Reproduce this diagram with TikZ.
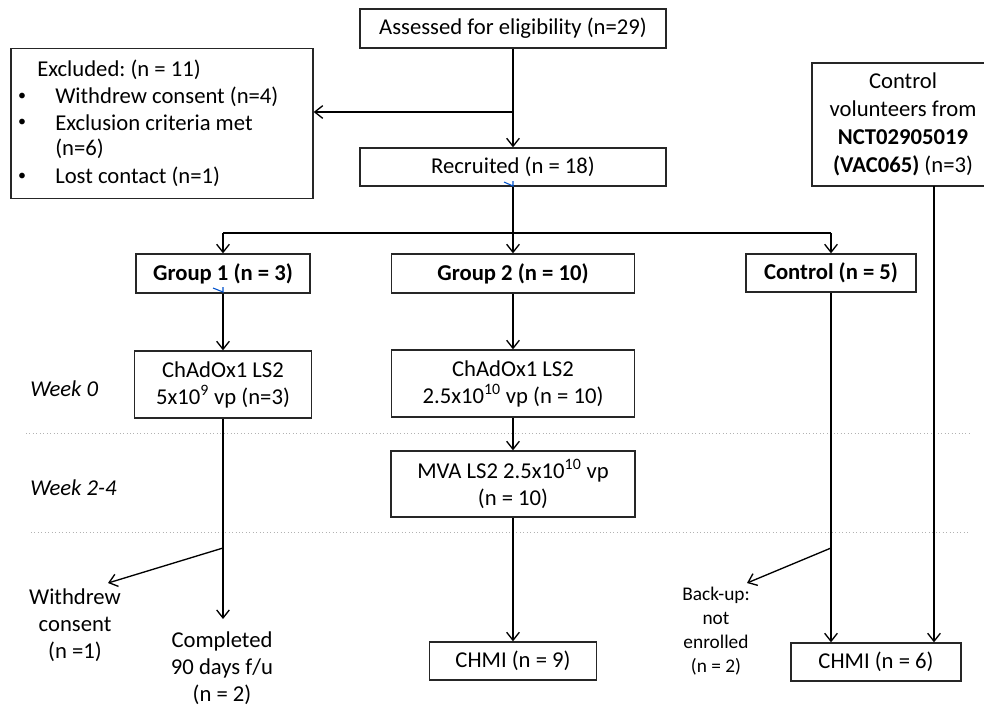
\documentclass[tikz,border=0pt]{standalone}
\usepackage{fontspec}
\setmainfont{Carlito}
\usetikzlibrary{arrows.meta}
\begin{document}
\frenchspacing
\begin{tikzpicture}[x=0.75pt,y=-0.75pt,
  box/.style={draw=black!85,line width=1pt,rectangle,inner sep=0pt,align=center,font=\fontsize{17}{20.25}\selectfont},
  txt/.style={inner sep=0pt,align=center,font=\fontsize{17}{20.25}\selectfont},
  arr/.style={line width=1pt,-{Straight Barb[length=6pt,width=9.5pt,line width=1pt]}},
  ln/.style={line width=1pt},
  sep/.style={draw=black!30,line width=0.6pt,dotted},
  blue/.style={draw=blue!60!cyan!80!black,line width=0.8pt}]
\clip (0,0) rectangle (984,708);
\fill[white] (0,0) rectangle (984,708);
% boxes
\node[box,minimum width=306*0.75pt,minimum height=39*0.75pt] (assess) at (513,28.5) {Assessed for eligibility (n=29)};
\node[box,minimum width=306*0.75pt,minimum height=38*0.75pt] (recruit) at (513,167) {Recruited (n = 18)};
\node[box,minimum width=302*0.75pt,minimum height=150*0.75pt] (excl) at (162,123.5) {};
\node[txt,anchor=west] (exclT) at (37,70) {Excluded: (n = 11)};
\node[txt,font=\fontsize{12}{14}\selectfont] (b1) at (22,97) {•};
\node[txt,font=\fontsize{12}{14}\selectfont] (b2) at (22,123) {•};
\node[txt,font=\fontsize{12}{14}\selectfont] (b3) at (22,177) {•};
\node[txt,anchor=west] (e1) at (55,97) {Withdrew consent (n=4)};
\node[txt,anchor=west] (e2) at (55,123) {Exclusion criteria met};
\node[txt,anchor=west] (e2b) at (55,149) {(n=6)};
\node[txt,anchor=west] (e3) at (55,177) {Lost contact (n=1)};
\node[box,minimum width=182*0.75pt,minimum height=123*0.75pt,font=\fontsize{17}{21}\selectfont] (ctrlvol) at (903,124.5) {Control\\volunteers from\\\textbf{NCT02905019}\\\textbf{(VAC065)} (n=3)};
\node[box,minimum width=174*0.75pt,minimum height=39*0.75pt,font=\fontsize{17}{20.25}\bfseries] (group1) at (223,273.5) {Group 1 (n = 3)};
\node[box,minimum width=243*0.75pt,minimum height=39*0.75pt,font=\fontsize{17}{20.25}\bfseries] (group2) at (513,273.5) {Group 2 (n = 10)};
\node[box,minimum width=170*0.75pt,minimum height=38*0.75pt,font=\fontsize{17}{20.25}\bfseries] (control) at (831,273) {Control (n = 5)};
\node[box,minimum width=177*0.75pt,minimum height=67*0.75pt] (chad1) at (223,384.5) {ChAdOx1 LS2\\5x10\textsuperscript{9} vp (n=3)};
\node[box,minimum width=243*0.75pt,minimum height=67*0.75pt] (chad2) at (513,383.5) {ChAdOx1 LS2\\2.5x10\textsuperscript{10} vp (n = 10)};
\node[box,minimum width=244*0.75pt,minimum height=66*0.75pt] (mva) at (513,484) {MVA LS2 2.5x10\textsuperscript{10} vp\\(n = 10)};
\node[box,minimum width=167*0.75pt,minimum height=38*0.75pt] (chmi9) at (513,661) {CHMI (n = 9)};
\node[box,minimum width=170*0.75pt,minimum height=38*0.75pt] (chmi6) at (876,662) {CHMI (n = 6)};
% free texts
\node[txt] (withdrew) at (75,625) {Withdrew\\consent\\(n =1)};
\node[txt] (completed) at (222,668) {Completed\\90 days f/u\\(n = 2)};
\node[txt,font=\fontsize{14.5}{18}\selectfont] (backup) at (716,631) {Back-up:\\not\\enrolled\\(n = 2)};
\node[txt,anchor=west,font=\fontsize{17}{20.25}\itshape] (week0) at (30,389) {Week 0};
\node[txt,anchor=west,font=\fontsize{17}{20.25}\itshape] (week24) at (30,488) {Week 2-4};
% separators
\coordinate (s1a) at (26,433); \coordinate (s1b) at (970,433);
\coordinate (s2a) at (31,532); \coordinate (s2b) at (970,532);
\draw[sep] (s1a) -- (s1b);
\draw[sep] (s2a) -- (s2b);
% connectors
\coordinate (exSplit) at (513,112);
\draw[arr] (assess.south) -- (recruit.north);
\draw[arr] (exSplit) -- (excl.east |- exSplit);
\coordinate (split) at (513,233);
\draw[ln] (recruit.south) -- (split);
\draw[ln] (group1.north |- split) -- (control.north |- split);
\draw[arr] (group1.north |- split) -- (group1.north);
\draw[arr] (split) -- (group2.north);
\draw[arr] (control.north |- split) -- (control.north);
\draw[arr] (group1.south) -- (chad1.north);
\draw[arr] (group2.south) -- (chad2.north);
\draw[arr] (chad2.south) -- (mva.north);
\draw[arr] (mva.south) -- (chmi9.north);
\coordinate (g1tip) at (223,619);
\coordinate (g1br) at (223,548);
\coordinate (wdtip) at (108,583);
\draw[arr] (chad1.south) -- (g1tip);
\draw[arr] (g1br) -- (wdtip);
\coordinate (ctbr) at (831,548);
\coordinate (bktip) at (747,583);
\draw[arr] (control.south) -- (control.south |- chmi6.north);
\draw[arr] (ctbr) -- (bktip);
\coordinate (cvx) at (934,186);
\draw[arr] (cvx) -- (cvx |- chmi6.north);
% small blue marks
\coordinate (bm1a) at (504,182); \coordinate (bm1b) at (513,186);
\draw[blue] (bm1a) -- (bm1b) -- (513,181);
\coordinate (bm2a) at (213,288); \coordinate (bm2b) at (223,292);
\draw[blue] (bm2a) -- (bm2b) -- (223,287);
\end{tikzpicture}
\end{document}
